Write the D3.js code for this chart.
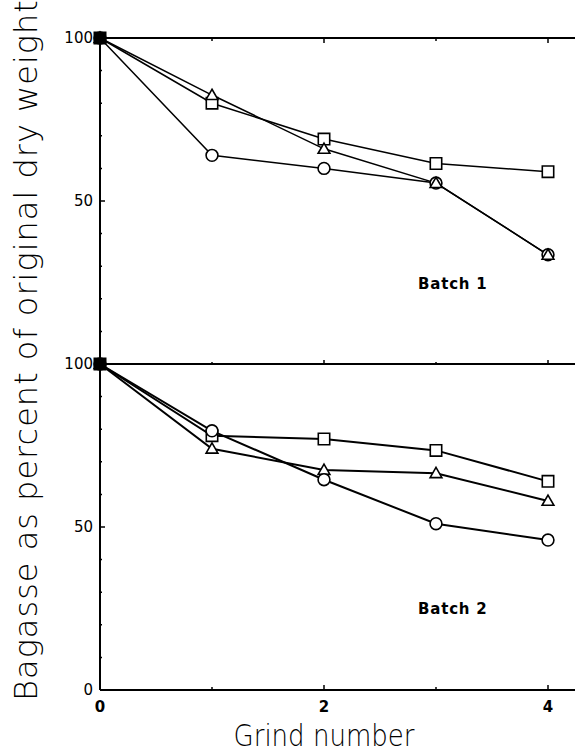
<!DOCTYPE html>
<html>
<head>
<meta charset="utf-8">
<script src="https://cdn.jsdelivr.net/npm/d3@7"></script>
<style>
  body { margin: 0; background: #fff; }
  svg { display: block; }
</style>
</head>
<body>
<svg id="chart" width="575" height="754"></svg>
<script>
// Grind number (x) for every series
const grinds = [0, 1, 2, 3, 4];

// Batch 1 (upper panel), percent of original dry weight
const batch1Square = [100, 80, 69, 61.5, 59];
const batch1Triangle = [100, 82.5, 66, 55.5, 33.5];
const batch1Circle = [100, 64, 60, 55.5, 33.5];

// Batch 2 (lower panel)
const batch2Square = [100, 78, 77, 73.5, 64];
const batch2Triangle = [100, 74, 67.5, 66.5, 58];
const batch2Circle = [100, 79.5, 64.5, 51, 46];

const xTicks = [0, 2, 4];
const xMinorTicks = [1, 3];
const yTicksTop = [100, 50];
const yTicksBottom = [100, 50, 0];

const chartW = 575;
const leftX = 100;
const topY = 38;
const midY = 364;
const bottomY = 690;

const svg = d3.select('#chart');

const x = d3.scaleLinear().domain([0, 4]).range([leftX, 548]);
const yTop = d3.scaleLinear().domain([0, 100]).range([midY, topY]);
const yBot = d3.scaleLinear().domain([0, 100]).range([bottomY, midY]);

// frame lines
const frame = svg.append('g').attr('stroke', '#000').attr('stroke-width', 2);
[topY, midY, bottomY].forEach((yy) => {
  frame.append('line').attr('x1', leftX).attr('x2', chartW + 5).attr('y1', yy).attr('y2', yy);
});
frame.append('line').attr('x1', leftX).attr('x2', leftX).attr('y1', topY).attr('y2', bottomY);

// x ticks (inward) on bottom, middle and top lines
const xt = svg.append('g').attr('stroke', '#000').attr('stroke-width', 1.5);
function xTick(d, len) {
  xt.append('line').attr('x1', x(d)).attr('x2', x(d)).attr('y1', bottomY).attr('y2', bottomY - len);
  xt.append('line').attr('x1', x(d)).attr('x2', x(d)).attr('y1', topY).attr('y2', topY + len);
  xt.append('line').attr('x1', x(d)).attr('x2', x(d)).attr('y1', midY).attr('y2', midY - len + 1);
}
xTicks.forEach((d) => xTick(d, 5));
xMinorTicks.forEach((d) => xTick(d, 3));

svg.append('g')
  .selectAll('text')
  .data(xTicks)
  .join('text')
  .attr('x', (d) => x(d))
  .attr('y', bottomY + 22)
  .attr('text-anchor', 'middle')
  .style('font-family', 'DejaVu Sans, sans-serif')
  .style('font-size', '15px')
  .style('font-weight', 'bold')
  .text((d) => d);

// y ticks (inward) for both panels
function yAxis(scale, labels) {
  const g = svg.append('g');
  g.selectAll('line')
    .data(d3.range(0, 101, 10))
    .join('line')
    .attr('x1', leftX)
    .attr('x2', (d) => leftX + (d % 50 === 0 ? 5 : 2))
    .attr('y1', (d) => scale(d))
    .attr('y2', (d) => scale(d))
    .attr('stroke', '#000')
    .attr('stroke-width', 1.5);
  g.selectAll('text')
    .data(labels)
    .join('text')
    .attr('x', leftX - 7)
    .attr('y', (d) => scale(d))
    .attr('dy', '0.36em')
    .attr('text-anchor', 'end')
    .style('font-family', 'DejaVu Sans, sans-serif')
    .style('font-size', '15px')
    .text((d) => d);
}
yAxis(yTop, yTicksTop);
yAxis(yBot, yTicksBottom);

// axis titles
svg.append('text')
  .attr('transform', 'translate(37,350) rotate(-90)')
  .attr('text-anchor', 'middle')
  .style('font-family', 'DejaVu Sans, sans-serif')
  .style('font-size', '32px')
  .style('font-weight', 200)
  .style('letter-spacing', '1px')
  .text('Bagasse as percent of original dry weight');

svg.append('text')
  .attr('transform', 'translate(324,746) scale(0.84,1)')
  .attr('text-anchor', 'middle')
  .style('font-family', 'DejaVu Sans, sans-serif')
  .style('font-size', '31px')
  .style('font-weight', 200)
  .text('Grind number');

// panel labels
svg.append('text')
  .attr('x', 418).attr('y', 289)
  .style('font-family', 'DejaVu Sans, sans-serif')
  .style('font-size', '15px')
  .style('font-weight', 'bold')
  .style('letter-spacing', '0.8px')
  .text('Batch 1');
svg.append('text')
  .attr('x', 418).attr('y', 614)
  .style('font-family', 'DejaVu Sans, sans-serif')
  .style('font-size', '15px')
  .style('font-weight', 'bold')
  .style('letter-spacing', '0.8px')
  .text('Batch 2');

const symbols = {
  square: d3.symbol().type(d3.symbolSquare).size(130),
  triangle: d3.symbol().type(d3.symbolTriangle).size(60),
  circle: d3.symbol().type(d3.symbolCircle).size(110),
};

function series(values, scale, lw) {
  const pts = grinds.map((g, i) => [g, values[i]]);
  svg.append('path')
    .datum(pts)
    .attr('fill', 'none')
    .attr('stroke', '#000')
    .attr('stroke-width', lw)
    .attr('d', d3.line().x((d) => x(d[0])).y((d) => scale(d[1])));
  return pts;
}

function markers(pts, scale, shape) {
  svg.append('g')
    .selectAll('path')
    .data(pts)
    .join('path')
    .attr('transform', (d) => `translate(${x(d[0])},${scale(d[1]) + (shape === 'triangle' ? 1 : 0)})`)
    .attr('d', symbols[shape]())
    .attr('fill', (d) => (d[0] === 0 ? '#000' : '#fff'))
    .attr('stroke', '#000')
    .attr('stroke-width', 1.6);
}

const top1 = [
  [series(batch1Square, yTop, 1.5), 'square'],
  [series(batch1Circle, yTop, 1.5), 'circle'],
  [series(batch1Triangle, yTop, 1.5), 'triangle'],
];
const bot2 = [
  [series(batch2Square, yBot, 2), 'square'],
  [series(batch2Triangle, yBot, 2), 'triangle'],
  [series(batch2Circle, yBot, 2), 'circle'],
];
top1.forEach(([pts, s]) => markers(pts, yTop, s));
bot2.forEach(([pts, s]) => markers(pts, yBot, s));
</script>
</body>
</html>
